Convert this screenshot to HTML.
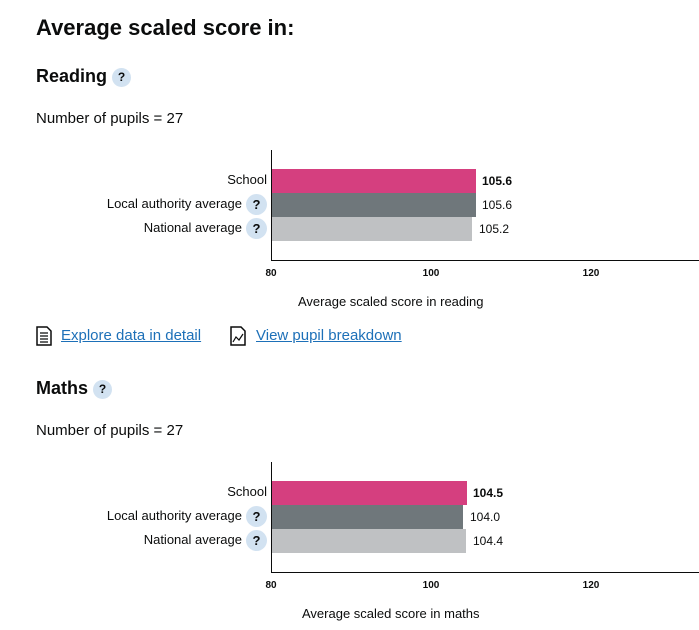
<!DOCTYPE html>
<html><head><meta charset="utf-8"><style>
body{margin:0;width:699px;height:630px;background:#fff;font-family:"Liberation Sans",Arial,sans-serif;color:#0b0c0c;position:relative;overflow:hidden}
.a{position:absolute;white-space:nowrap}
.h1{font-size:22px;font-weight:bold;left:36px;top:15px}
.h2{font-size:18px;font-weight:bold;left:36px}
.p{font-size:15px;left:36px}
.q{display:inline-block;width:19px;height:19px;border-radius:50%;background:#d2e2f1;font-size:12px;font-weight:bold;text-align:center;line-height:19px;vertical-align:middle}
.lbl{font-size:13px;right:432px;text-align:right}
.lbl .q{width:21px;height:21px;line-height:21px;font-size:13px;margin-left:4px}
.val{font-size:12px}
.tick{font-size:10px;font-weight:bold;transform:translateX(-50%)}
.ax{font-size:13px}
.link{font-size:15px;color:#1d70b8;text-decoration:underline}
</style></head><body>
<div class="a h1">Average scaled score in:</div>

<!-- Reading -->
<div class="a h2" style="top:66px">Reading <span class="q">?</span></div>
<div class="a p" style="top:110px">Number of pupils = 27</div>
<div class="a" style="left:271px;top:150px;width:1px;height:111px;background:#0b0c0c"></div>
<div class="a" style="left:271px;top:260px;width:428px;height:1px;background:#0b0c0c"></div>
<div class="a" style="left:272px;top:169px;width:204px;height:24px;background:#d53f7f"></div>
<div class="a" style="left:272px;top:193px;width:204px;height:24px;background:#6f777b"></div>
<div class="a" style="left:272px;top:217px;width:200px;height:24px;background:#bfc1c3"></div>
<div class="a lbl" style="top:172px">School</div>
<div class="a lbl" style="top:194px">Local authority average<span class="q">?</span></div>
<div class="a lbl" style="top:218px">National average<span class="q">?</span></div>
<div class="a val" style="left:482px;top:174px;font-weight:bold">105.6</div>
<div class="a val" style="left:482px;top:198px">105.6</div>
<div class="a val" style="left:479px;top:222px">105.2</div>
<div class="a tick" style="left:271px;top:268px">80</div>
<div class="a tick" style="left:431px;top:268px">100</div>
<div class="a tick" style="left:591px;top:268px">120</div>
<div class="a ax" style="left:298px;top:294px">Average scaled score in reading</div>

<svg class="a" style="left:36px;top:326px" width="16" height="20" viewBox="0 0 16 20"><path d="M1 1h10l4 4v14H1z" fill="none" stroke="#0b0c0c" stroke-width="1.5"/><path d="M4 7h8M4 10h8M4 13h8M4 16h8" stroke="#0b0c0c" stroke-width="1.2"/></svg>
<div class="a link" style="left:61px;top:327px">Explore data in detail</div>
<svg class="a" style="left:230px;top:326px" width="16" height="20" viewBox="0 0 16 20"><path d="M1 1h10l4 4v14H1z" fill="none" stroke="#0b0c0c" stroke-width="1.5"/><path d="M3 16l3-5 3 3 4-6" fill="none" stroke="#0b0c0c" stroke-width="1.2"/></svg>
<div class="a link" style="left:256px;top:327px">View pupil breakdown</div>

<!-- Maths -->
<div class="a h2" style="top:378px">Maths <span class="q">?</span></div>
<div class="a p" style="top:422px">Number of pupils = 27</div>
<div class="a" style="left:271px;top:462px;width:1px;height:111px;background:#0b0c0c"></div>
<div class="a" style="left:271px;top:572px;width:428px;height:1px;background:#0b0c0c"></div>
<div class="a" style="left:272px;top:481px;width:195px;height:24px;background:#d53f7f"></div>
<div class="a" style="left:272px;top:505px;width:191px;height:24px;background:#6f777b"></div>
<div class="a" style="left:272px;top:529px;width:194px;height:24px;background:#bfc1c3"></div>
<div class="a lbl" style="top:484px">School</div>
<div class="a lbl" style="top:506px">Local authority average<span class="q">?</span></div>
<div class="a lbl" style="top:530px">National average<span class="q">?</span></div>
<div class="a val" style="left:473px;top:486px;font-weight:bold">104.5</div>
<div class="a val" style="left:470px;top:510px">104.0</div>
<div class="a val" style="left:473px;top:534px">104.4</div>
<div class="a tick" style="left:271px;top:580px">80</div>
<div class="a tick" style="left:431px;top:580px">100</div>
<div class="a tick" style="left:591px;top:580px">120</div>
<div class="a ax" style="left:302px;top:606px">Average scaled score in maths</div>
</body></html>
